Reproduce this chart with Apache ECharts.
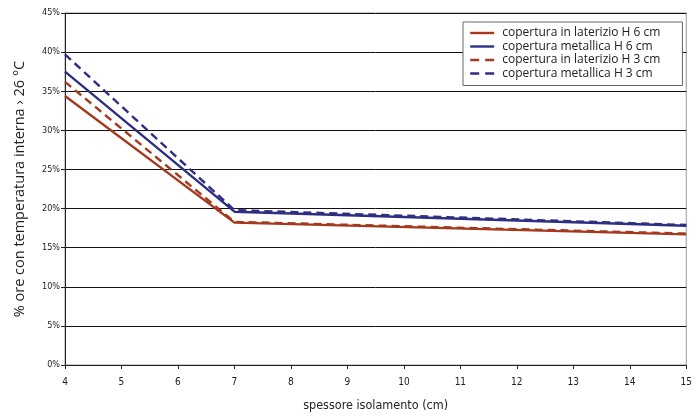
<!DOCTYPE html>
<html><head><meta charset="utf-8">
<script src="https://cdn.jsdelivr.net/npm/echarts@6/dist/echarts.min.js"></script>
<style>html,body{margin:0;padding:0;background:#fff}#c{width:695px;height:417px}</style>
</head><body><div id="c"></div>
<script>
var xValues = [4, 7, 15];
var laterizioH6 = [34.4, 18.2, 16.7];
var metallicaH6 = [37.5, 19.6, 17.8];
var laterizioH3 = [36.2, 18.3, 16.8];
var metallicaH3 = [39.7, 19.8, 17.9];
var seriesNames = ['copertura in laterizio H 6 cm','copertura metallica H 6 cm','copertura in laterizio H 3 cm','copertura metallica H 3 cm'];
var RED = '#A5391C', BLUE = '#2E2E82';
function pts(v){ return xValues.map(function(x,i){return [x, v[i]];}); }
function mk(name, v, color, dashed){
  return {name:name, type:'line', data:pts(v), symbol:'none', showSymbol:false, silent:true,
    lineStyle:{color:color, width:2.4, type: dashed ? [8,5] : 'solid'}, itemStyle:{color:color}, z: dashed?3:2};
}
var chart = echarts.init(document.getElementById('c'));
chart.setOption({
  animation:false,
  grid:{left:65, right:3, top:13, bottom:49, show:true, borderColor:'#999', borderWidth:1, backgroundColor:'transparent'},
  xAxis:{type:'value', min:4, max:15, interval:1,
    name:'spessore isolamento (cm)', nameLocation:'middle', nameGap:34,
    nameTextStyle:{fontFamily:'Liberation Sans Narrow, DejaVu Sans Condensed, sans-serif', fontSize:12.5, color:'#222'},
    axisLine:{show:true, lineStyle:{color:'#222', width:1}},
    axisTick:{show:true, length:4, lineStyle:{color:'#222'}},
    axisLabel:{fontFamily:'Liberation Sans Narrow, DejaVu Sans Condensed, sans-serif', fontSize:10, color:'#222', margin:12},
    splitLine:{show:false}},
  yAxis:{type:'value', min:0, max:45, interval:5,
    name:'% ore con temperatura interna › 26 °C', nameLocation:'middle', nameGap:38,
    nameTextStyle:{fontFamily:'Open Sans, sans-serif', fontSize:14.5, color:'#222'},
    axisLine:{show:true, lineStyle:{color:'#222', width:1}},
    axisTick:{show:true, length:4, lineStyle:{color:'#222'}},
    axisLabel:{fontFamily:'Liberation Sans Narrow, DejaVu Sans Condensed, sans-serif', fontSize:9, color:'#222', margin:5, formatter:'{value}%'},
    splitLine:{show:true, lineStyle:{color:'#111', width:1}}},
  legend:{orient:'vertical', left:463, top:22, padding:[5,22,6,6], itemGap:1.5,
    backgroundColor:'#fff', borderColor:'#666', borderWidth:1,
    itemWidth:24, itemHeight:12, selectedMode:false,
    itemStyle:{opacity:0, borderWidth:0},
    lineStyle:{width:2.4},
    textStyle:{fontFamily:'Open Sans, sans-serif', fontSize:12, color:'#222', padding:[0,0,0,3]},
    data:[
      {name:seriesNames[0]},
      {name:seriesNames[1]},
      {name:seriesNames[2], lineStyle:{type:[9,6]}},
      {name:seriesNames[3], lineStyle:{type:[9,6]}}
    ]},
  series:[
    mk(seriesNames[0], laterizioH6, RED, false),
    mk(seriesNames[1], metallicaH6, BLUE, false),
    mk(seriesNames[2], laterizioH3, RED, true),
    mk(seriesNames[3], metallicaH3, BLUE, true)
  ]
});
</script></body></html>
